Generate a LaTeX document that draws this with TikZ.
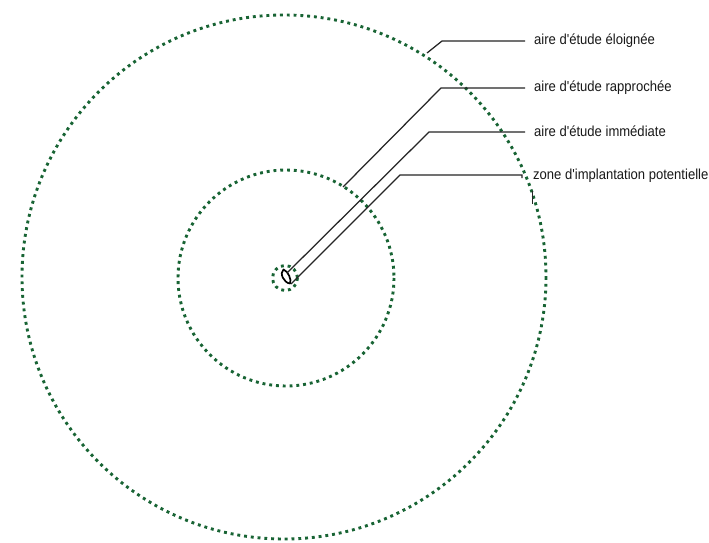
\documentclass[tikz,border=0pt]{standalone}
\usepackage{fontspec}
\newfontfamily\labfont[FakeStretch=0.9]{Liberation Sans}
\definecolor{dotgreen}{RGB}{24,100,52}
\begin{document}
\begin{tikzpicture}[x=1pt,y=-1pt,
  ring/.style={draw=dotgreen,line width=2.9pt,dash pattern=on 2.9pt off 3.9pt},
  leader/.style={draw=black!85,line width=1.25pt},
  lab/.style={anchor=base west,inner sep=0pt,font=\labfont\fontsize{14.5}{16}\selectfont,text=black!90}]
\useasboundingbox (0,0) rectangle (709,543);
\fill[white] (0,0) rectangle (709,543);
% rings
\draw[ring] (284,277) circle (262);
\draw[ring] (286,278) circle (108);
\draw[ring] (285,278) circle (12.5);
% zone d'implantation
\draw[black,line width=1.7pt,line join=round] (283.5,269.5) .. controls (279,273) and (284,283) .. (290,283.5) .. controls (292,280) and (288,271) .. (283.5,269.5) -- cycle;
% labels
\node[lab] (l1) at (534,45) {aire d'étude éloignée};
\node[lab] (l2) at (534,92) {aire d'étude rapprochée};
\node[lab] (l3) at (534,136) {aire d'étude immédiate};
\node[lab] (l4) at (533,179) {zone d'implantation potentielle};
% leader coordinates
\coordinate (a1) at (427,53);  \coordinate (b1) at (442,41);  \coordinate (c1) at (525,41);
\coordinate (a2) at (343,187); \coordinate (b2) at (441,88);  \coordinate (c2) at (525,88);
\coordinate (a3) at (287,273); \coordinate (b3) at (429,132); \coordinate (c3) at (525,132);
\coordinate (a4) at (291,284); \coordinate (b4) at (400,175); \coordinate (c4) at (522,175);
\coordinate (d4) at (522,178);
\draw[leader] (a1) -- (b1) -- (c1);
\draw[leader] (a2) -- (b2) -- (c2);
\draw[leader] (a3) -- (b3) -- (c3);
\draw[leader] (a4) -- (b4) -- (c4) -- (d4);
\coordinate (t1) at (532,191); \coordinate (t2) at (532,204);
\draw[leader,line width=0.9pt] (t1) -- (t2);
\end{tikzpicture}
\end{document}
